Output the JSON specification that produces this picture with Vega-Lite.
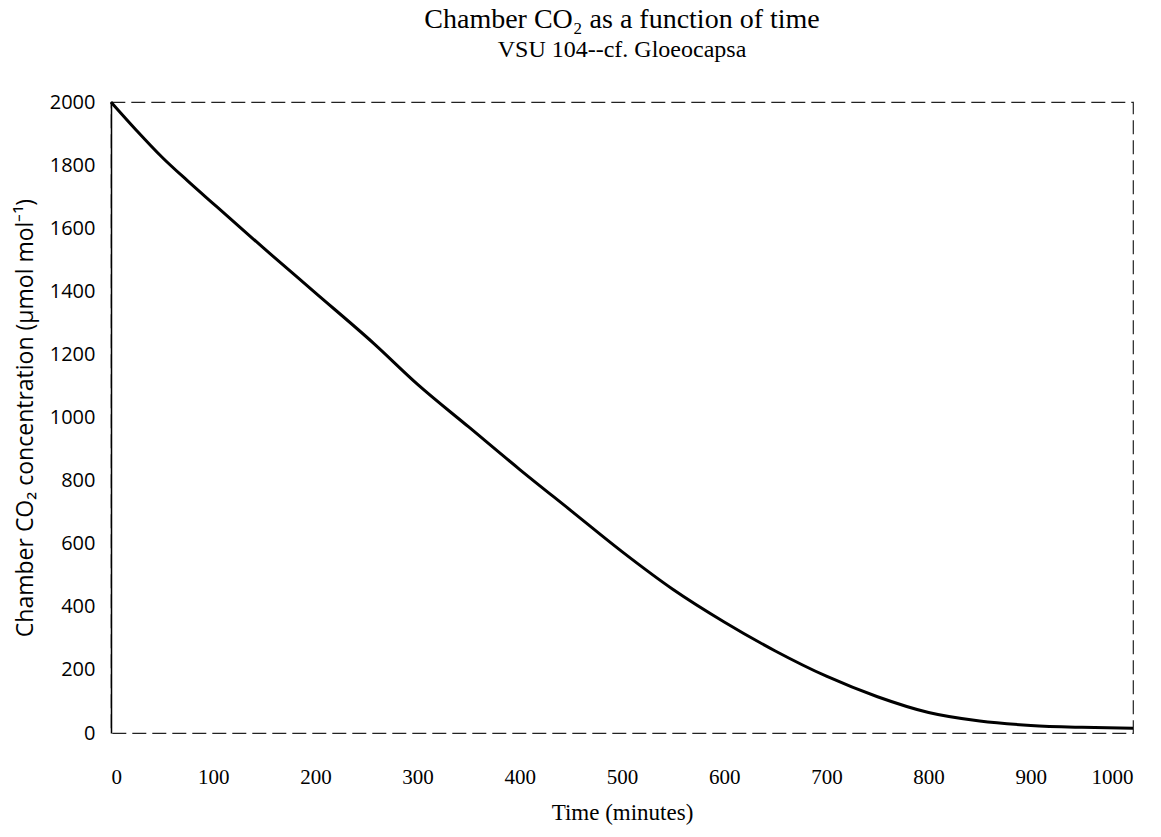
{
  "$schema": "https://vega.github.io/schema/vega-lite/v6.json",
  "width": 1022,
  "height": 631,
  "autosize": {"type": "none"},
  "padding": {"left": 111, "top": 102, "right": 28, "bottom": 104},
  "background": "white",
  "title": {
    "text": "Chamber CO₂ as a function of time",
    "subtitle": "VSU 104--cf. Gloeocapsa",
    "anchor": "middle",
    "font": "Liberation Serif",
    "fontSize": 28,
    "fontWeight": "normal",
    "color": "black",
    "subtitleFont": "Liberation Serif",
    "subtitleFontSize": 24,
    "subtitleColor": "black",
    "subtitlePadding": 4,
    "offset": 30
  },
  "config": {
    "view": {"stroke": "#222", "strokeWidth": 1.2, "strokeDash": [14, 6]}
  },
  "data": {
    "values": [
      {"time": 0, "co2": 2000},
      {"time": 25, "co2": 1910},
      {"time": 50, "co2": 1825},
      {"time": 75, "co2": 1750},
      {"time": 100, "co2": 1678},
      {"time": 150, "co2": 1535},
      {"time": 200, "co2": 1395},
      {"time": 257, "co2": 1235},
      {"time": 300, "co2": 1105},
      {"time": 350, "co2": 970},
      {"time": 400, "co2": 835},
      {"time": 450, "co2": 705},
      {"time": 500, "co2": 575},
      {"time": 550, "co2": 455},
      {"time": 600, "co2": 352},
      {"time": 650, "co2": 260},
      {"time": 700, "co2": 180},
      {"time": 750, "co2": 115},
      {"time": 800, "co2": 65},
      {"time": 850, "co2": 38},
      {"time": 900, "co2": 24},
      {"time": 950, "co2": 18},
      {"time": 1000, "co2": 15}
    ]
  },
  "mark": {"type": "line", "color": "black", "strokeWidth": 3, "interpolate": "monotone"},
  "encoding": {
    "x": {
      "field": "time",
      "type": "quantitative",
      "scale": {"domain": [0, 1000], "nice": false},
      "axis": {
        "title": "Time (minutes)",
        "values": [0, 100, 200, 300, 400, 500, 600, 700, 800, 900, 1000],
        "format": "d",
        "grid": false,
        "ticks": false,
        "domain": false,
        "labelFont": "Liberation Serif",
        "labelFontSize": 21,
        "labelColor": "black",
        "labelPadding": 33,
        "titleFont": "Liberation Serif",
        "titleFontSize": 23,
        "titleFontWeight": "normal",
        "titleColor": "black",
        "titlePadding": 14
      }
    },
    "y": {
      "field": "co2",
      "type": "quantitative",
      "scale": {"domain": [0, 2000], "nice": false},
      "axis": {
        "title": "Chamber CO₂ concentration (μmol mol⁻¹)",
        "values": [0, 200, 400, 600, 800, 1000, 1200, 1400, 1600, 1800, 2000],
        "format": "d",
        "grid": false,
        "ticks": false,
        "domain": true,
        "domainColor": "black",
        "domainWidth": 1.5,
        "labelFont": "Open Sans",
        "labelFontSize": 20,
        "labelColor": "black",
        "labelPadding": 16,
        "titleFont": "Open Sans",
        "titleFontSize": 23,
        "titleFontWeight": "normal",
        "titleColor": "black",
        "titlePadding": 12
      }
    }
  }
}
